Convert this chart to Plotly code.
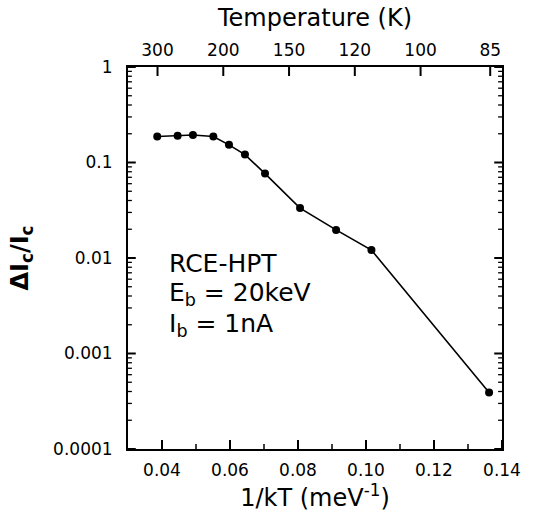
import plotly.graph_objects as go

# Data
inv_kT = [0.0386, 0.0446, 0.0491, 0.0551, 0.0597, 0.0644, 0.0703, 0.0806, 0.0912, 0.1016, 0.1362]
dIc_Ic = [0.187, 0.191, 0.194, 0.187, 0.153, 0.121, 0.0766, 0.0333, 0.0197, 0.0121, 0.00039]

x_ticks = [0.04, 0.06, 0.08, 0.10, 0.12, 0.14]
x_ticklabels = ["0.04", "0.06", "0.08", "0.10", "0.12", "0.14"]
x_minor_ticks = [0.05, 0.07, 0.09, 0.11, 0.13]
y_ticks = [1e-4, 1e-3, 1e-2, 1e-1, 1]
y_ticklabels = ["0.0001", "0.001", "0.01", "0.1", "1"]
temps_K = [300, 200, 150, 120, 100, 85]
k_B = 0.08617  # meV/K

FONT = "DejaVu Sans"
X_RANGE = [0.03, 0.14]
Y_LOG_RANGE = [-4, 0]
PLOT_W, PLOT_H = 533 - 128 - 20, 525 - 67 - 76   # plot area in px

top_vals = [1.0 / (k_B * T) for T in temps_K]
y_minor = [m * 10 ** e for e in range(-4, 0) for m in range(2, 10)]

# conversion of tick lengths (px) into axis units
dx_per_px = (X_RANGE[1] - X_RANGE[0]) / PLOT_W
dlogy_per_px = (Y_LOG_RANGE[1] - Y_LOG_RANGE[0]) / PLOT_H
ybot, ytop = 10 ** Y_LOG_RANGE[0], 10 ** Y_LOG_RANGE[1]
xl, xr = X_RANGE


def xticks_trace(vals, length, at_bottom):
    xs, ys = [], []
    for v in vals:
        if at_bottom:
            ys += [ybot, ybot * 10 ** (length * dlogy_per_px), None]
        else:
            ys += [ytop, ytop / 10 ** (length * dlogy_per_px), None]
        xs += [v, v, None]
    return xs, ys


def yticks_trace(vals, length):
    xs, ys = [], []
    for v in vals:
        xs += [xl, xl + length * dx_per_px, None, xr, xr - length * dx_per_px, None]
        ys += [v, v, None, v, v, None]
    return xs, ys


fig = go.Figure()
fig.add_trace(go.Scatter(
    x=inv_kT, y=dIc_Ic, mode="lines+markers",
    line=dict(color="black", width=1.6),
    marker=dict(color="black", size=8),
    showlegend=False, hoverinfo="skip",
))

for (xs, ys), w in (
    (xticks_trace(x_ticks, 9, True), 2),
    (xticks_trace(x_minor_ticks, 5, True), 1.5),
    (xticks_trace(top_vals, 9, False), 2),
    (yticks_trace(y_ticks, 8), 2),
    (yticks_trace(y_minor, 4), 1.3),
):
    fig.add_trace(go.Scatter(x=xs, y=ys, mode="lines", line=dict(color="black", width=w),
                             showlegend=False, hoverinfo="skip", cliponaxis=False))

fig.add_trace(go.Scatter(
    x=top_vals, y=[None] * len(top_vals), xaxis="x2", mode="markers",
    marker=dict(opacity=0), showlegend=False, hoverinfo="skip",
))

fig.update_layout(
    width=533, height=525,
    margin=dict(l=128, r=20, t=67, b=76),
    paper_bgcolor="white", plot_bgcolor="white",
    font=dict(family=FONT, color="black", size=17),
    xaxis=dict(
        range=X_RANGE, tickmode="array", tickvals=x_ticks, ticktext=x_ticklabels,
        ticks="", showline=True, linewidth=2, linecolor="black", mirror=False,
        showgrid=False, zeroline=False,
        tickfont=dict(size=17), ticklabelstandoff=5,
        title=dict(text="1/kT (meV<sup>-1</sup>)", font=dict(size=24), standoff=10),
    ),
    xaxis2=dict(
        overlaying="x", side="top", range=X_RANGE,
        tickmode="array", tickvals=top_vals, ticktext=[str(t) for t in temps_K],
        ticks="", showline=True, linewidth=2, linecolor="black",
        showgrid=False, zeroline=False,
        tickfont=dict(size=17), ticklabelstandoff=2,
        title=dict(text="Temperature (K)", font=dict(size=24), standoff=7),
    ),
    yaxis=dict(
        type="log", range=Y_LOG_RANGE, tickmode="array", tickvals=y_ticks, ticktext=y_ticklabels,
        ticks="", showline=True, linewidth=2, linecolor="black", mirror=True,
        showgrid=False, zeroline=False,
        tickfont=dict(size=17), ticklabelstandoff=10,
        title=dict(text="<b>ΔI<sub>c</sub>/I<sub>c</sub></b>", font=dict(size=24), standoff=18),
    ),
)

note_lines = ["RCE-HPT", "E<sub>b</sub> = 20keV", "I<sub>b</sub> = 1nA"]
note_y = [0.485, 0.405, 0.325]
for txt, yy in zip(note_lines, note_y):
    fig.add_annotation(
        xref="paper", yref="paper", x=0.105, y=yy, xanchor="left", yanchor="middle",
        align="left", showarrow=False, font=dict(size=25, family=FONT), text=txt,
    )

fig.write_html("out.html")
